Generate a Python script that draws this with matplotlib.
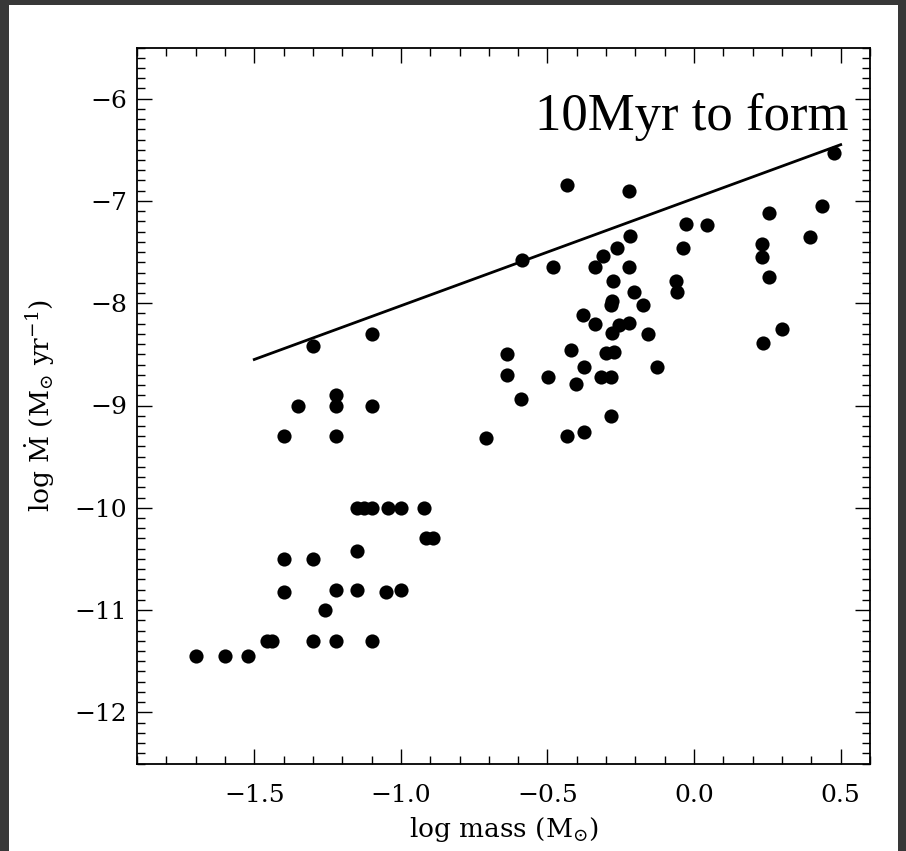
import matplotlib
matplotlib.use("Agg")
import matplotlib.pyplot as plt
from matplotlib.patches import Rectangle
from matplotlib.ticker import MultipleLocator, FuncFormatter

# log stellar mass (Msun) and log accretion rate (Msun/yr)
log_mass = [
    -1.70, -1.60, -1.52, -1.455, -1.44, -1.30, -1.22, -1.10, -1.26,
    -1.40, -1.22, -1.15, -1.05, -1.00, -1.40, -1.30, -1.15, -0.915, -0.89,
    -1.15, -1.125, -1.10, -1.045, -1.00, -0.92,
    -1.40, -1.22, -1.35, -1.22, -1.10, -1.22, -1.30, -1.10,
    -0.71, -0.433, -0.374, -0.283, -0.592, -0.402, -0.637, -0.499, -0.319,
    -0.285, -0.374, -0.126, -0.637, -0.421, -0.299, -0.274, -0.279, -0.158,
    -0.339, -0.257, -0.223, -0.378, -0.175, -0.285, -0.28, -0.206, -0.277,
    -0.339, -0.223, -0.482, -0.586, -0.310, -0.262, -0.217, -0.433, -0.223,
    -0.063, -0.058, -0.039, -0.029, 0.045, 0.232, 0.230, 0.255, 0.255,
    0.300, 0.235, 0.397, 0.437, 0.477,
]
log_mdot = [
    -11.45, -11.45, -11.45, -11.30, -11.30, -11.30, -11.30, -11.30, -11.00,
    -10.82, -10.80, -10.80, -10.82, -10.80, -10.50, -10.50, -10.42, -10.30, -10.30,
    -10.00, -10.00, -10.00, -10.00, -10.00, -10.00,
    -9.30, -9.30, -9.00, -9.00, -9.00, -8.90, -8.42, -8.30,
    -9.32, -9.295, -9.255, -9.10, -8.94, -8.79, -8.70, -8.72, -8.72,
    -8.72, -8.62, -8.62, -8.50, -8.46, -8.49, -8.48, -8.29, -8.30,
    -8.20, -8.21, -8.19, -8.12, -8.02, -8.02, -7.98, -7.89, -7.78,
    -7.65, -7.65, -7.65, -7.58, -7.54, -7.46, -7.34, -6.84, -6.90,
    -7.78, -7.89, -7.46, -7.23, -7.24, -7.42, -7.55, -7.74, -7.115,
    -8.255, -8.39, -7.355, -7.05, -6.53,
]

# formation-time reference line
line_mass = [-1.5, 0.5]
line_mdot = [-8.55, -6.45]
line_label = "10Myr to form"

x_ticks = [-1.5, -1.0, -0.5, 0.0, 0.5]
y_ticks = [-12, -11, -10, -9, -8, -7, -6]

plt.rcParams["font.family"] = ["DejaVu Serif"]
plt.rcParams["mathtext.fontset"] = "dejavuserif"


def signed(fmt):
    def _f(v, pos):
        s = fmt.format(abs(v))
        return ("\u2212" + s) if v < -1e-9 else s
    return FuncFormatter(_f)


W, H = 906, 851
fig = plt.figure(figsize=(W / 100, H / 100), dpi=100, facecolor="#383838")
panel = Rectangle((9 / W, 0), (898 - 9) / W, (H - 5) / H,
                  transform=fig.transFigure, facecolor="white",
                  edgecolor="none", zorder=-10)
fig.add_artist(panel)

left, right, top, bottom = 137, 870, 47.5, 763.5
ax = fig.add_axes([left / W, 1 - bottom / H, (right - left) / W, (bottom - top) / H])
ax.set_zorder(2)
ax.set_facecolor("white")

ax.plot(log_mass, log_mdot, "o", color="black", markersize=10.2,
        markeredgewidth=0, clip_on=False)
ax.plot(line_mass, line_mdot, "-", color="black", linewidth=2.0)
ax.text(0.526, -6.306, line_label, ha="right", va="baseline",
        fontsize=38, family="Liberation Serif")

ax.set_xlim(-1.9, 0.6)
ax.set_ylim(-12.5, -5.5)
ax.set_xticks(x_ticks)
ax.set_yticks(y_ticks)
ax.xaxis.set_minor_locator(MultipleLocator(0.1))
ax.yaxis.set_minor_locator(MultipleLocator(0.1))
ax.xaxis.set_major_formatter(signed("{:.1f}"))
ax.yaxis.set_major_formatter(signed("{:.0f}"))

for s in ax.spines.values():
    s.set_linewidth(1.3)
ax.tick_params(which="both", direction="in", top=True, right=True, width=1.0)
ax.tick_params(which="major", length=10.5)
ax.tick_params(which="minor", length=5.5)
ax.tick_params(axis="x", which="major", pad=15, labelsize=18)
ax.tick_params(axis="y", which="major", pad=7, labelsize=18)

fig.text(40 / W, 1 - 405.5 / H, r"log $\dot{\mathrm{M}}$ (M$_{\odot}$ yr$^{-1}$)",
         rotation=90, ha="center", va="center", fontsize=19, zorder=3)
fig.text(503.5 / W, 1 - 837 / H, r"log mass (M$_{\odot}$)",
         ha="center", va="baseline", fontsize=19, zorder=3)

fig.savefig("out.png", dpi=100, facecolor=fig.get_facecolor())
